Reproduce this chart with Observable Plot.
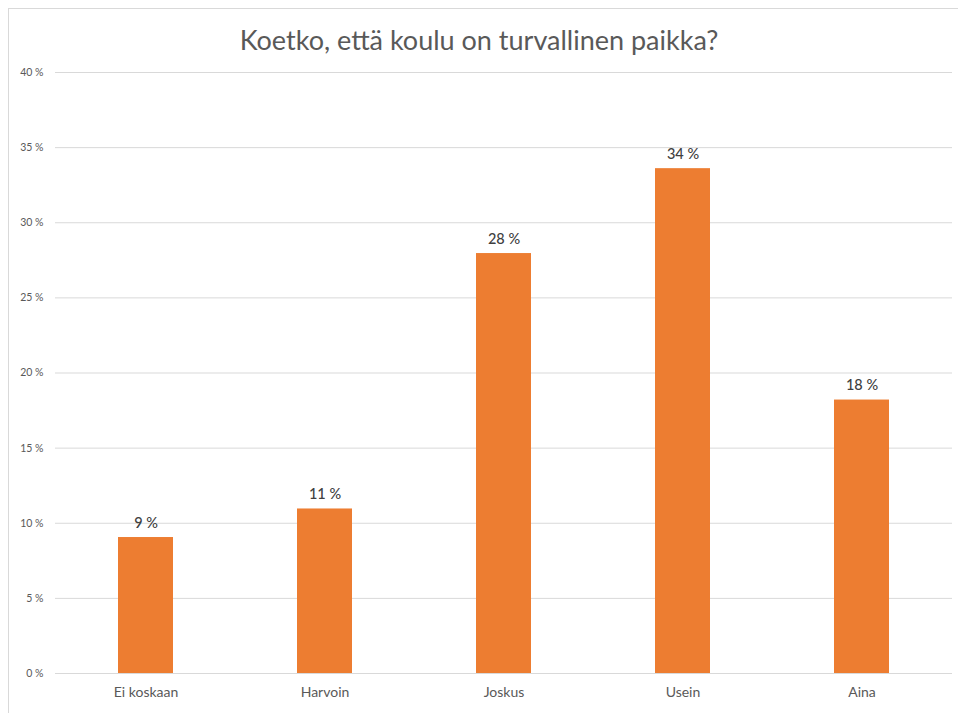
<!DOCTYPE html>
<html>
<head>
<meta charset="utf-8">
<script src="https://cdn.jsdelivr.net/npm/d3@7"></script>
<script src="https://cdn.jsdelivr.net/npm/@observablehq/plot@0.6"></script>
<style>
  html, body { margin: 0; padding: 0; background: #fff; }
  #wrap { position: relative; width: 958px; height: 713px; overflow: hidden; }
  #frame { position: absolute; left: 8px; top: 8px; width: 980px; height: 740px; border: 1px solid #d9d9d9; box-sizing: border-box; pointer-events: none; }
  #title { height: 62px; text-align: center; font-family: "Lato", sans-serif; font-size: 27px; color: #595959; line-height: 80px; white-space: nowrap; }
  svg { display: block; }
</style>
</head>
<body>
<div id="wrap">
  <div id="title">Koetko, että koulu on turvallinen paikka?</div>
  <div id="chart"></div>
  <div id="frame"></div>
</div>
<script>
const categories = ["Ei koskaan", "Harvoin", "Joskus", "Usein", "Aina"];
const values = [9.05, 10.95, 27.95, 33.6, 18.2];
const labels = ["9 %", "11 %", "28 %", "34 %", "18 %"];
const yTicks = [0, 5, 10, 15, 20, 25, 30, 35, 40];

const data = categories.map((c, i) => ({category: c, value: values[i], label: labels[i]}));

const chart = Plot.plot({
  width: 958,
  height: 651,
  marginLeft: 55,
  marginRight: 6,
  marginTop: 10,
  marginBottom: 40,
  style: {fontFamily: "Lato, sans-serif", background: "#fff"},
  x: {domain: categories, paddingInner: 0.69, paddingOuter: 0.345, label: null},
  y: {domain: [0, 40], label: null},
  marks: [
    Plot.gridY(yTicks, {stroke: "#d9d9d9", strokeOpacity: 1, strokeWidth: 1}),
    Plot.barY(data, {x: "category", y: "value", fill: "#ED7D31"}),
    Plot.text(data, {x: "category", y: "value", text: "label", lineAnchor: "bottom", dy: -10, fontSize: 14.5, fill: "#404040", fontWeight: 500}),
    Plot.axisY({ticks: yTicks, tickFormat: d => d + " %", tickSize: 0, tickPadding: 12, fontSize: 10.5, color: "#595959"}),
    Plot.axisX({tickSize: 0, tickPadding: 14, fontSize: 14, color: "#595959"})
  ]
});
document.getElementById("chart").appendChild(chart);
</script>
</body>
</html>
